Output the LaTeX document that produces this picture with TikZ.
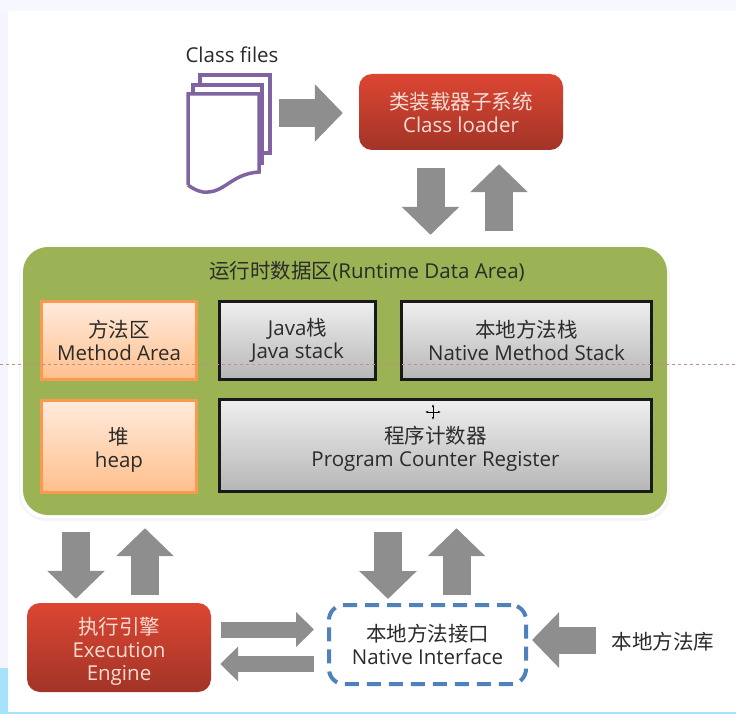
\documentclass[tikz,border=0pt]{standalone}
\usepackage{fontspec}
\setmainfont{Open Sans}
\newfontfamily\cjk{Noto Sans CJK SC}
\usetikzlibrary{arrows.meta}
\definecolor{arrowgray}{HTML}{8E8E8E}
\definecolor{filepurple}{HTML}{8064A2}
\definecolor{areagreen}{HTML}{9BB354}
\definecolor{ifaceblue}{HTML}{4F81BD}
\definecolor{redtop}{HTML}{DC4632}
\definecolor{redbottom}{HTML}{A23427}
\definecolor{redtext}{HTML}{F6DDD3}
\definecolor{darktext}{HTML}{2B2B2B}
\definecolor{orangeline}{HTML}{FA9A4E}
\definecolor{orangetop}{HTML}{FFEBDC}
\definecolor{orangebottom}{HTML}{FFBF8C}
\definecolor{graytop}{HTML}{EFEFEF}
\definecolor{graybottom}{HTML}{B6B6B6}
\newcommand\droptext{\rule{0pt}{24pt}}
\tikzset{
  x=1pt,y=-1pt,
  every node/.style={font=\fontsize{20.5}{23}\selectfont,text=darktext,align=center,inner sep=0pt},
  redbox/.style={rounded corners=13pt,top color=redtop,bottom color=redbottom,text=redtext},
  orangebox/.style={draw=orangeline,line width=3pt,top color=orangetop,bottom color=orangebottom},
  graybox/.style={draw=black!90,line width=3pt,top color=graytop,bottom color=graybottom},
  sheet/.style={draw=filepurple,line width=3.5pt,line join=miter},
  bigarrow/.style={draw=arrowgray,line width=#1,-{Triangle[length=#1,width=2*#1,fill=arrowgray]}},
  bigarrow/.default=28pt,
  thinarrow/.style={draw=arrowgray,line width=16pt,-{Triangle[length=18pt,width=34pt,fill=arrowgray]}},
}
\begin{document}
\begin{tikzpicture}
\useasboundingbox (0,0) rectangle (736,714);
% -- draw backdrop
\fill [white] (0,0) rectangle (736,714);
\fill [blue!4!white] (0,0) rectangle (8,714);
\fill [blue!3!white] (0,0) rectangle (736,11);
\fill [cyan!35!white] (0,668) rectangle (8,714);
\fill [cyan!35!white] (0,712) rectangle (736,714);
\fill [black!4,rounded corners=27pt] (19,250) rectangle (670,521);
\fill [white,rounded corners=26pt] (20,247) rectangle (668,518);
% -- define nodes
\node (classfiles) at (232,55) {Class files};
\node [redbox,minimum width=204pt,minimum height=76pt] (loader) at (461,112)
  {{\cjk 类装载器子系统}\\Class loader};
\node [fill=areagreen,rounded corners=25pt,minimum width=644pt,minimum height=268pt] (runtime) at (345,381) {};
\node (title) at (367,272) {{\cjk 运行时数据区}(Runtime Data Area)};
\node [orangebox,minimum width=155pt,minimum height=78pt] (method) at (119,340.5) {{\cjk 方法区}\\Method Area};
\node [orangebox,minimum width=155pt,minimum height=92pt] (heap) at (119,446.5) {\droptext{\cjk 堆}\\heap};
\node [graybox,minimum width=156pt,minimum height=78pt] (javastack) at (297.5,340.5) {Java{\cjk 栈}\\Java stack};
\node [graybox,minimum width=250pt,minimum height=78pt] (nativestack) at (526.5,340.5) {{\cjk 本地方法栈}\\Native Method Stack};
\node [graybox,minimum width=432pt,minimum height=92pt] (counter) at (435.5,445.5) {\droptext{\cjk 程序计数器}\\Program Counter Register};
\node [redbox,minimum width=184pt,minimum height=89pt] (engine) at (119,647.5)
  {\droptext{\cjk 执行引擎}\\Execution\\Engine};
\node [draw=ifaceblue,line width=4pt,dash pattern=on 14pt off 8pt,rounded corners=15pt,minimum width=197pt,minimum height=79pt] (interface) at (427.5,644.5)
  {{\cjk 本地方法接口}\\Native Interface};
\node (library) at (663,642) {\cjk 本地方法库};
% -- draw file sheets
\draw [sheet] (200,85) -- (200,75) -- (270,75) -- (270,153) -- (262,153);
\draw [sheet] (193,94) -- (193,85) -- (262,85) -- (262,163) -- (259,163);
\draw [sheet] (188,185) -- (188,94) -- (259,94) -- (259,172)
  .. controls (230,174) and (225,194) .. (203,192) .. controls (197,191) and (192,188) .. (188,185);
% -- draw arrows
\coordinate (filesend) at (279,113);
\draw [bigarrow] (filesend) -- ([shift={(-16,1)}]loader.west);
\draw [bigarrow,shorten <=18pt,shorten >=12pt] ([xshift=-30.5pt]loader.south) -- ([xshift=85.5pt]runtime.north);
\draw [bigarrow,shorten <=16pt,shorten >=14pt] ([xshift=154pt]runtime.north) -- ([xshift=38pt]loader.south);
\draw [bigarrow,shorten <=17pt,shorten >=4pt] ([xshift=-43pt]engine.north |- runtime.south) -- ([xshift=-43pt]engine.north);
\draw [bigarrow,shorten <=8pt,shorten >=13pt] ([xshift=26pt]engine.north) -- ([xshift=26pt]engine.north |- runtime.south);
\draw [bigarrow,shorten <=17pt,shorten >=4pt] ([xshift=-39.5pt]interface.north |- runtime.south) -- ([xshift=-39.5pt]interface.north);
\draw [bigarrow,shorten <=8pt,shorten >=13pt] ([xshift=29pt]interface.north) -- ([xshift=29pt]interface.north |- runtime.south);
\draw [thinarrow,shorten <=10pt,shorten >=13pt] ([yshift=18pt]engine.east) -- ([yshift=18pt]engine.east -| interface.west);
\draw [thinarrow,shorten <=13pt,shorten >=9pt] ([yshift=-16.5pt]engine.east -| interface.west) -- ([yshift=-16.5pt]engine.east);
\coordinate (libraryend) at (596,640);
\draw [bigarrow=27pt] (libraryend) -- (532,640);
% -- draw screen marks
\draw [red!45!black!45!white,dashed,line width=.6pt] (0,364) -- (736,364);
\draw [{Latex[length=3pt]}-{Latex[length=3pt]},line width=.7pt] (425,412) -- (441,412);
\draw [{Latex[length=3pt]}-{Latex[length=3pt]},line width=.7pt] (433,404) -- (433,420);
\end{tikzpicture}
\end{document}
